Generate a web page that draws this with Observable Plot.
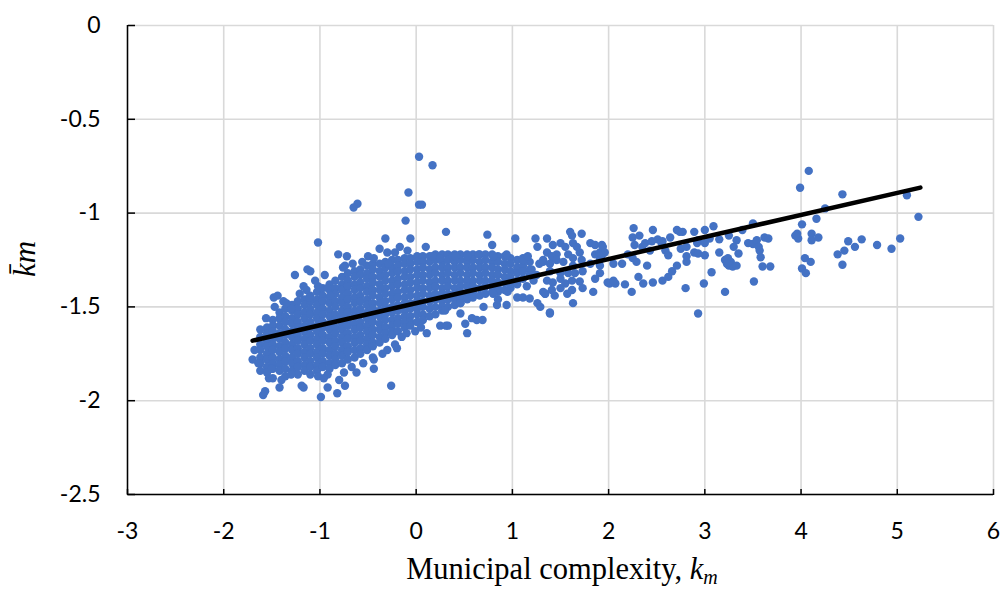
<!DOCTYPE html>
<html><head><meta charset="utf-8">
<script src="https://cdn.jsdelivr.net/npm/d3@7"></script>
<script src="https://cdn.jsdelivr.net/npm/@observablehq/plot@0.6"></script>
<style>body{margin:0;background:#fff;}</style>
</head><body><div id="chart"></div>
<script>
const xTicks = [-3,-2,-1,0,1,2,3,4,5,6];
const yTicks = [0,-0.5,-1,-1.5,-2,-2.5];

// dense core: column x positions and y values in each column
const coreCols = [-1.62,-1.55,-1.49,-1.42,-1.36,-1.29,-1.23,-1.16,-1.10,-1.03,-0.97,-0.90,-0.84,-0.77,-0.71,-0.64,-0.58,-0.51,-0.45,-0.38,-0.32,-0.25,-0.19,-0.12,-0.06,0.01,0.07,0.14,0.20,0.27,0.33,0.40,0.46,0.53,0.59,0.66,0.72,0.79,0.85,0.92,0.98,1.05,1.11,1.18];
const coreYs = [
[-1.66,-1.70,-1.73,-1.77,-1.80,-1.84],
[-1.61,-1.64,-1.68,-1.71,-1.75,-1.78,-1.82,-1.85],
[-1.57,-1.60,-1.63,-1.67,-1.70,-1.73,-1.77,-1.80,-1.83],
[-1.53,-1.56,-1.60,-1.64,-1.67,-1.71,-1.74,-1.78,-1.81,-1.84],
[-1.51,-1.55,-1.58,-1.62,-1.65,-1.69,-1.72,-1.76,-1.79,-1.83],
[-1.49,-1.52,-1.56,-1.59,-1.63,-1.66,-1.70,-1.73,-1.77,-1.80,-1.84],
[-1.47,-1.51,-1.54,-1.58,-1.61,-1.65,-1.68,-1.72,-1.75,-1.79,-1.82],
[-1.46,-1.49,-1.53,-1.56,-1.60,-1.63,-1.67,-1.70,-1.74,-1.77,-1.81,-1.84],
[-1.44,-1.47,-1.51,-1.54,-1.58,-1.61,-1.65,-1.68,-1.72,-1.75,-1.79,-1.82],
[-1.42,-1.46,-1.49,-1.53,-1.56,-1.60,-1.63,-1.67,-1.70,-1.74,-1.77,-1.81,-1.84],
[-1.40,-1.44,-1.47,-1.51,-1.54,-1.58,-1.61,-1.65,-1.68,-1.72,-1.75,-1.79,-1.82],
[-1.38,-1.41,-1.45,-1.48,-1.52,-1.55,-1.59,-1.62,-1.66,-1.69,-1.73,-1.76,-1.80,-1.83],
[-1.36,-1.40,-1.43,-1.47,-1.50,-1.54,-1.57,-1.61,-1.64,-1.68,-1.71,-1.75,-1.78,-1.81],
[-1.34,-1.38,-1.41,-1.45,-1.48,-1.52,-1.55,-1.59,-1.62,-1.66,-1.69,-1.73,-1.76,-1.80],
[-1.32,-1.36,-1.39,-1.43,-1.46,-1.50,-1.53,-1.57,-1.60,-1.64,-1.67,-1.71,-1.74,-1.78],
[-1.31,-1.34,-1.38,-1.41,-1.45,-1.48,-1.52,-1.55,-1.59,-1.62,-1.66,-1.69,-1.73,-1.77],
[-1.30,-1.33,-1.37,-1.40,-1.44,-1.47,-1.51,-1.54,-1.58,-1.61,-1.65,-1.68,-1.72,-1.75],
[-1.28,-1.32,-1.35,-1.39,-1.42,-1.46,-1.49,-1.53,-1.56,-1.60,-1.63,-1.67,-1.70,-1.73],
[-1.27,-1.30,-1.34,-1.37,-1.41,-1.44,-1.48,-1.51,-1.55,-1.58,-1.62,-1.65,-1.69,-1.71],
[-1.27,-1.31,-1.34,-1.38,-1.41,-1.45,-1.48,-1.52,-1.55,-1.59,-1.62,-1.66,-1.69],
[-1.26,-1.29,-1.33,-1.36,-1.40,-1.43,-1.47,-1.50,-1.54,-1.57,-1.61,-1.64,-1.67],
[-1.25,-1.29,-1.32,-1.36,-1.39,-1.43,-1.46,-1.50,-1.53,-1.57,-1.60,-1.63,-1.65],
[-1.25,-1.28,-1.31,-1.35,-1.38,-1.42,-1.45,-1.49,-1.52,-1.56,-1.59,-1.63],
[-1.24,-1.27,-1.31,-1.34,-1.38,-1.41,-1.45,-1.48,-1.52,-1.55,-1.58,-1.61],
[-1.24,-1.27,-1.30,-1.34,-1.37,-1.41,-1.44,-1.48,-1.51,-1.55,-1.58,-1.60],
[-1.23,-1.26,-1.30,-1.33,-1.37,-1.40,-1.44,-1.47,-1.51,-1.54,-1.58],
[-1.23,-1.26,-1.29,-1.33,-1.36,-1.40,-1.43,-1.47,-1.50,-1.54,-1.57],
[-1.23,-1.26,-1.30,-1.33,-1.37,-1.40,-1.44,-1.47,-1.51,-1.55],
[-1.22,-1.25,-1.29,-1.32,-1.36,-1.39,-1.43,-1.46,-1.50,-1.54],
[-1.22,-1.26,-1.29,-1.33,-1.36,-1.40,-1.43,-1.47,-1.50,-1.52],
[-1.22,-1.25,-1.29,-1.32,-1.36,-1.39,-1.43,-1.46,-1.50],
[-1.22,-1.26,-1.29,-1.33,-1.36,-1.40,-1.43,-1.46,-1.49],
[-1.22,-1.25,-1.29,-1.32,-1.36,-1.39,-1.42,-1.45,-1.48],
[-1.22,-1.26,-1.29,-1.33,-1.36,-1.39,-1.43,-1.46],
[-1.22,-1.25,-1.29,-1.32,-1.36,-1.39,-1.42,-1.45],
[-1.22,-1.26,-1.29,-1.33,-1.36,-1.40,-1.44],
[-1.22,-1.25,-1.29,-1.32,-1.36,-1.39,-1.43],
[-1.22,-1.26,-1.29,-1.33,-1.36,-1.39,-1.42],
[-1.23,-1.26,-1.30,-1.33,-1.37,-1.40,-1.42],
[-1.23,-1.27,-1.30,-1.34,-1.37,-1.41],
[-1.24,-1.27,-1.31,-1.34,-1.38,-1.40],
[-1.25,-1.29,-1.32,-1.36],
[-1.24,-1.28,-1.31,-1.35],
[-1.26,-1.30,-1.33]
];

const lowerLeft = [[-1.70,-1.78],[-1.68,-1.73],[-1.64,-1.80],[-1.50,-1.83],[-1.53,-1.88],[-1.49,-1.88],[-1.40,-1.89],[-1.36,-1.87],[-1.59,-1.97],[-1.57,-1.95],[-1.42,-1.93],[-1.23,-1.86],[-1.19,-1.92],[-1.17,-1.93],[-1.02,-1.87],[-0.99,-1.98],[-0.92,-1.93],[-0.82,-1.96],[-0.92,-1.86],[-0.80,-1.89],[-0.74,-1.92],[-0.75,-1.85],[-0.62,-1.85],[-0.44,-1.78],[-0.26,-1.92],[-0.30,-1.73],[-0.20,-1.72],[-0.15,-1.66],[-0.44,-1.83],[-0.45,-1.77],[-0.55,-1.80],[-0.67,-1.82],[-1.10,-1.86],[-1.30,-1.86],[-0.96,-1.88],[-0.35,-1.75],[-0.10,-1.64],[-0.01,-1.63],[0.11,-1.64],[0.25,-1.60],[0.31,-1.60],[-0.22,-1.70],[0.05,-1.61]];

const upperLeft = [[-1.48,-1.45],[-1.44,-1.44],[-1.47,-1.50],[-1.30,-1.51],[-1.13,-1.30],[-1.10,-1.31],[-1.26,-1.33],[-1.17,-1.39],[-1.14,-1.41],[-1.02,-1.39],[-0.89,-1.44],[-0.92,-1.40],[-1.11,-1.45],[-1.02,-1.157],[-0.81,-1.22],[-0.56,-1.26],[-0.38,-1.19],[-0.22,-1.21],[-0.17,-1.18],[-0.09,-1.20],[0.10,-1.18],[-0.32,-1.135],[-0.06,-1.135],[-0.11,-1.04],[-0.08,-0.89],[0.03,-0.955],[0.06,-0.955],[0.03,-0.70],[0.17,-0.745],[-0.61,-0.95],[-0.65,-0.97],[-1.62,-1.62],[-1.56,-1.56],[-1.38,-1.47],[-1.21,-1.43],[-0.95,-1.33],[-0.74,-1.28],[-0.72,-1.23],[-0.76,-1.29],[-0.66,-1.27],[-0.50,-1.23],[-0.44,-1.24],[-0.29,-1.27],[-0.30,-1.21],[0.17,-1.23],[0.25,-1.24],[0.38,-1.23],[0.31,-1.10],[-1.35,-1.48],[-1.05,-1.36]];

const midRight = [[0.74,-1.115],[0.79,-1.17],[1.03,-1.135],[1.24,-1.135],[1.36,-1.135],[1.26,-1.18],[0.41,-1.23],[0.53,-1.23],[0.65,-1.22],[0.80,-1.23],[0.94,-1.22],[1.11,-1.25],[1.16,-1.23],[1.32,-1.25],[1.44,-1.24],[0.30,-1.52],[0.33,-1.60],[0.46,-1.535],[0.51,-1.59],[0.53,-1.64],[0.58,-1.56],[0.63,-1.57],[0.69,-1.57],[0.84,-1.49],[0.94,-1.49],[0.80,-1.43],[0.85,-1.46],[1.05,-1.45],[1.11,-1.45],[1.18,-1.455],[1.26,-1.48],[1.29,-1.50],[1.39,-1.53],[1.34,-1.43],[1.44,-1.44],[1.05,-1.38],[1.15,-1.39],[0.95,-1.42],[0.70,-1.50],[0.46,-1.48],[1.60,-1.10],[1.62,-1.12],[1.72,-1.11],[1.42,-1.17],[1.50,-1.16],[1.55,-1.18],[1.63,-1.16],[1.67,-1.18],[1.81,-1.16],[1.86,-1.17],[1.93,-1.17],[1.36,-1.21],[1.41,-1.23],[1.46,-1.22],[1.58,-1.22],[1.63,-1.24],[1.70,-1.21],[1.86,-1.22],[1.91,-1.21],[1.32,-1.26],[1.39,-1.27],[1.46,-1.25],[1.53,-1.26],[1.63,-1.28],[1.72,-1.25],[1.81,-1.27],[1.91,-1.25],[1.39,-1.31],[1.50,-1.32],[1.58,-1.32],[1.65,-1.32],[1.73,-1.31],[1.91,-1.32],[1.36,-1.36],[1.42,-1.37],[1.50,-1.35],[1.55,-1.375],[1.62,-1.36],[1.70,-1.365],[1.86,-1.35],[1.32,-1.42],[1.34,-1.43],[1.41,-1.41],[1.50,-1.40],[1.57,-1.43],[1.62,-1.41],[1.73,-1.40],[1.63,-1.48],[1.39,-1.535],[1.84,-1.42],[1.20,-1.30],[1.25,-1.33],[1.28,-1.27],[1.22,-1.36]];

const rightTail = [[1.94,-1.18],[1.96,-1.21],[1.93,-1.225],[2.05,-1.27],[1.91,-1.28],[2.01,-1.375],[2.07,-1.375],[1.99,-1.37],[2.05,-1.36],[2.17,-1.38],[2.24,-1.42],[2.26,-1.08],[2.25,-1.13],[2.32,-1.12],[2.27,-1.17],[2.35,-1.18],[2.25,-1.24],[2.29,-1.26],[2.38,-1.16],[2.45,-1.15],[2.46,-1.09],[2.51,-1.14],[2.56,-1.15],[2.31,-1.34],[2.36,-1.375],[2.46,-1.37],[2.56,-1.36],[2.62,-1.34],[2.66,-1.31],[2.71,-1.28],[2.59,-1.20],[2.62,-1.225],[2.64,-1.13],[2.71,-1.09],[2.74,-1.10],[2.77,-1.10],[2.75,-1.19],[2.80,-1.40],[2.81,-1.26],[2.81,-1.23],[2.81,-1.18],[2.89,-1.10],[2.92,-1.16],[2.93,-1.145],[3.00,-1.16],[3.05,-1.135],[3.00,-1.09],[3.09,-1.07],[2.89,-1.21],[2.93,-1.215],[3.00,-1.225],[2.93,-1.535],[2.99,-1.375],[3.07,-1.315],[3.15,-1.14],[3.15,-1.21],[3.21,-1.25],[3.24,-1.24],[3.27,-1.26],[3.25,-1.28],[3.29,-1.285],[3.33,-1.28],[3.23,-1.27],[3.21,-1.42],[3.25,-1.12],[3.33,-1.145],[3.30,-1.18],[3.35,-1.215],[3.39,-1.09],[3.45,-1.16],[3.50,-1.165],[3.54,-1.145],[3.56,-1.18],[3.57,-1.20],[3.50,-1.055],[3.58,-1.235],[3.62,-1.13],[3.66,-1.135],[3.60,-1.285],[3.68,-1.285],[3.51,-1.365],[2.43,-1.20],[2.55,-1.16],[2.20,-1.22],[2.14,-1.27],[2.40,-1.28],[3.99,-0.865],[4.08,-0.775],[4.43,-0.90],[5.10,-0.905],[5.22,-1.02],[4.16,-1.03],[4.25,-0.975],[4.01,-1.06],[3.96,-1.11],[3.97,-1.135],[3.94,-1.12],[4.11,-1.11],[4.11,-1.145],[4.18,-1.13],[4.04,-1.24],[4.10,-1.26],[4.01,-1.295],[4.05,-1.32],[4.38,-1.22],[4.45,-1.20],[4.43,-1.275],[4.49,-1.15],[4.56,-1.18],[4.63,-1.14],[4.79,-1.17],[4.94,-1.19],[5.03,-1.135]];

// fitted trend line end points
const trendX = [-1.70, 5.24];
const trendY = [-1.68, -0.864];

const points = [];
coreCols.forEach((cx, i) => coreYs[i].forEach(cy => points.push({x: cx, y: cy})));
[lowerLeft, upperLeft, midRight, rightTail].forEach(g => g.forEach(([a, b]) => points.push({x: a, y: b})));
const trend = trendX.map((v, i) => ({x: v, y: trendY[i]}));

const fmt = d => String(d);

const chart = Plot.plot({
  width: 1002, height: 591,
  marginLeft: 127, marginRight: 9, marginTop: 25, marginBottom: 97,
  x: {domain: [-3, 6]},
  y: {domain: [-2.5, 0]},
  style: {fontFamily: "Lato, 'Open Sans', sans-serif", fontSize: "23px", color: "#000", background: "#fff"},
  marks: [
    Plot.gridX(xTicks, {stroke: "#d9d9d9", strokeOpacity: 1, strokeWidth: 1.6}),
    Plot.gridY(yTicks, {stroke: "#d9d9d9", strokeOpacity: 1, strokeWidth: 1.6}),
    Plot.dot(points, {x: "x", y: "y", r: 4.2, fill: "#4472C4", stroke: "none"}),
    Plot.line(trend, {x: "x", y: "y", stroke: "#000", strokeWidth: 4.5}),
    Plot.ruleX([-3], {stroke: "#000", strokeWidth: 1.5}),
    Plot.ruleY([-2.5], {stroke: "#000", strokeWidth: 1.5}),
    Plot.axisX(xTicks, {anchor: "bottom", tickSize: 0, tickPadding: 28, tickFormat: fmt, label: null, fontSize: 23}),
    Plot.axisY(yTicks, {anchor: "left", tickSize: 0, tickPadding: 27, tickFormat: fmt, label: null, fontSize: 23}),
    Plot.axisX(xTicks, {anchor: "top", frameAnchor: "bottom", tickSize: 6, strokeWidth: 1.5, fill: "none", label: null}),
    Plot.axisY(yTicks, {anchor: "right", frameAnchor: "left", tickSize: 7, strokeWidth: 1.5, fill: "none", label: null})
  ]
});

const svg = d3.select(chart);
const xl = svg.append("text")
  .attr("x", 562).attr("y", 579)
  .attr("text-anchor", "middle")
  .attr("font-family", "'Liberation Serif', 'Times New Roman', serif")
  .attr("font-size", 30.5).attr("fill", "#000");
xl.append("tspan").text("Municipal complexity, ");
xl.append("tspan").attr("font-style", "italic").text("k");
xl.append("tspan").attr("font-style", "italic").attr("font-size", 20).attr("dy", 5).text("m");

svg.append("text")
  .attr("transform", "translate(35,259) rotate(-90)")
  .attr("text-anchor", "middle")
  .attr("font-family", "'Liberation Serif', 'Times New Roman', serif")
  .attr("font-style", "italic")
  .attr("font-size", 31).attr("fill", "#000")
  .text("k\u0304m");

document.getElementById("chart").appendChild(chart);
</script>
</body></html>
